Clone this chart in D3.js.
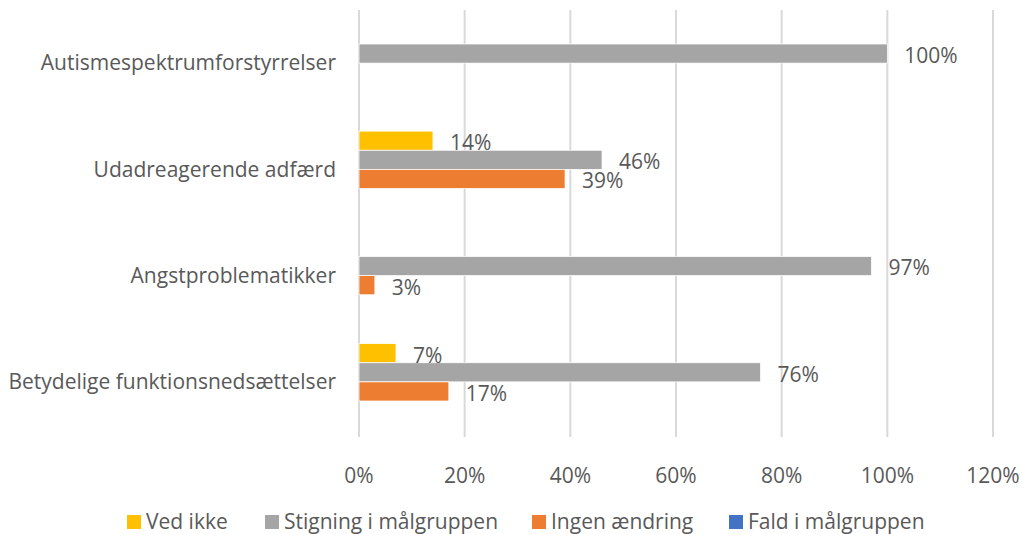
<!DOCTYPE html>
<html>
<head>
<meta charset="utf-8">
<script src="https://cdn.jsdelivr.net/npm/d3@7"></script>
<style>
  body { margin: 0; background: #fff; }
  text { font-family: "Open Sans", Lato, sans-serif; fill: #595959; }
</style>
</head>
<body>
<svg id="chart" width="1022" height="534"></svg>
<script>
// categories top to bottom
var categories = ["Autismespektrumforstyrrelser", "Udadreagerende adfærd", "Angstproblematikker", "Betydelige funktionsnedsættelser"];
var seriesNames = ["Ved ikke", "Stigning i målgruppen", "Ingen ændring", "Fald i målgruppen"];
var seriesColors = ["#FFC000", "#A5A5A5", "#ED7D31", "#4472C4"];
// values per series, in category order
var vedIkke = [0, 0.14, 0, 0.07];
var stigning = [1.00, 0.46, 0.97, 0.76];
var ingen = [0, 0.39, 0.03, 0.17];
var fald = [0, 0, 0, 0];
var xTicks = [0, 0.2, 0.4, 0.6, 0.8, 1.0, 1.2];

var seriesValues = [vedIkke, stigning, ingen, fald];

var svg = d3.select("#chart")
  , margin = { top: 10, left: 359, right: 29, bottom: 99 }
  , width = 1022 - margin.left - margin.right
  , height = 534 - margin.top - margin.bottom
  , fontSize = "21px"
;

var x = d3.scaleLinear().domain([0, 1.2]).range([0, width]);
var y0 = d3.scaleBand().domain(categories).range([0, height]).paddingInner(0.28).paddingOuter(0.14);
var y1 = d3.scaleBand().domain(seriesNames).range([0, y0.bandwidth()]);

var g = svg.append("g").attr("transform", "translate(" + margin.left + "," + margin.top + ")");

// gridlines
g.selectAll(".grid")
    .data(xTicks)
  .enter().append("line")
    .attr("x1", function(d) { return x(d); })
    .attr("x2", function(d) { return x(d); })
    .attr("y1", 0)
    .attr("y2", height + 2)
    .attr("stroke", "#d9d9d9")
    .attr("stroke-width", 2)
;

// x axis labels
g.selectAll(".xlab")
    .data(xTicks)
  .enter().append("text")
    .attr("x", function(d) { return x(d); })
    .attr("y", height + 48)
    .attr("text-anchor", "middle")
    .style("font-size", fontSize)
    .text(d3.format(".0%"))
;

// category labels
g.selectAll(".ylab")
    .data(categories)
  .enter().append("text")
    .attr("x", -23)
    .attr("y", function(d) { return y0(d) + y0.bandwidth() / 2; })
    .attr("dy", "0.35em")
    .attr("text-anchor", "end")
    .style("font-size", fontSize)
    .text(function(d) { return d; })
;

// bars
var rows = [];
categories.forEach(function(c, ci) {
    seriesNames.forEach(function(s, si) {
        rows.push({ cat: c, series: s, color: seriesColors[si], value: seriesValues[si][ci] });
    });
});

g.selectAll(".bar")
    .data(rows)
  .enter().append("rect")
    .attr("x", 0)
    .attr("y", function(d) { return y0(d.cat) + y1(d.series); })
    .attr("width", function(d) { return x(d.value); })
    .attr("height", y1.bandwidth())
    .attr("fill", function(d) { return d.color; })
    .attr("stroke", function(d) { return d.value > 0 ? "#fff" : "none"; })
    .attr("stroke-width", 0.75)
;

g.selectAll(".vlab")
    .data(rows.filter(function(d) { return d.value > 0; }))
  .enter().append("text")
    .attr("x", function(d) { return x(d.value) + 17; })
    .attr("y", function(d) { return y0(d.cat) + y1(d.series) + y1.bandwidth() / 2 + 2; })
    .attr("dy", "0.35em")
    .style("font-size", fontSize)
    .text(function(d) { return d3.format(".0%")(d.value); })
;

// legend
var legendX = [127, 265, 532, 729];
var legend = svg.selectAll(".legend")
    .data(seriesNames)
  .enter().append("g")
    .attr("transform", function(d, i) { return "translate(" + legendX[i] + ",515)"; })
;
legend.append("rect")
    .attr("width", 14).attr("height", 14)
    .attr("fill", function(d, i) { return seriesColors[i]; })
;
legend.append("text")
    .attr("x", 19).attr("y", 7)
    .attr("dy", "0.35em")
    .style("font-size", fontSize)
    .text(function(d) { return d; })
;
</script>
</body>
</html>
